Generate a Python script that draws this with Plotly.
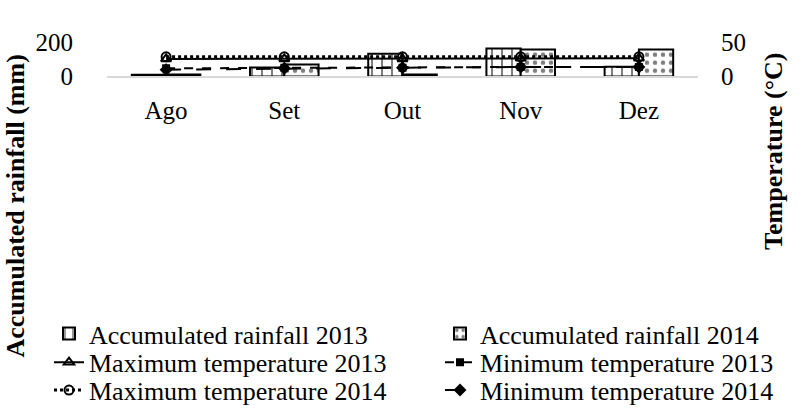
import plotly.graph_objects as go

months = ["Ago", "Set", "Out", "Nov", "Dez"]
rain_2013 = [10, 53, 134, 165, 57]
rain_2014 = [12, 71, 12, 159, 159]
tmax_2013 = [26, 26, 26, 27, 27]
tmin_2013 = [12, 13, 13, 14, 14]
tmax_2014 = [29, 29, 29, 29, 29]
tmin_2014 = [10, 12, 13, 14, 14]

FONT = "Liberation Serif"
W, H = 809, 414
x0, x1 = 107, 698
ytop, ybot = 43, 77

fig = go.Figure()
fig.add_trace(go.Bar(
    x=months, y=rain_2013, name="Accumulated rainfall 2013",
    marker=dict(color="white", line=dict(color="black", width=2),
                pattern=dict(shape="|", fgcolor="black", bgcolor="white", size=10, solidity=0.2)),
    legend="legend"))
fig.add_trace(go.Bar(
    x=months, y=rain_2014, name="Accumulated rainfall 2014",
    marker=dict(color="white", line=dict(color="black", width=2),
                pattern=dict(shape=".", fgcolor="black", bgcolor="white", size=8, solidity=0.25)),
    legend="legend2"))
fig.add_trace(go.Scatter(
    x=months, y=tmax_2013, name="Maximum temperature 2013", yaxis="y2",
    mode="lines+markers", line=dict(color="black", width=2, dash="solid"),
    marker=dict(symbol="triangle-up-open", size=9, color="black", line=dict(width=2)),
    legend="legend3"))
fig.add_trace(go.Scatter(
    x=months, y=tmin_2013, name="Minimum temperature 2013", yaxis="y2",
    mode="lines+markers", line=dict(color="black", width=2, dash="dash"),
    marker=dict(symbol="square", size=8, color="black"),
    legend="legend4"))
fig.add_trace(go.Scatter(
    x=months, y=tmax_2014, name="Maximum temperature 2014", yaxis="y2",
    mode="lines+markers", line=dict(color="black", width=3, dash="dot"),
    marker=dict(symbol="circle-open", size=9, color="black", line=dict(width=2)),
    legend="legend5"))
fig.add_trace(go.Scatter(
    x=months, y=tmin_2014, name="Minimum temperature 2014", yaxis="y2",
    mode="lines+markers", line=dict(color="black", width=2, dash="longdash"),
    marker=dict(symbol="diamond", size=10, color="black"),
    legend="legend6"))

def leg(xpx, ypx):
    return dict(orientation="h", xanchor="left", yanchor="middle",
                x=xpx / W, y=1 - ypx / H,
                font=dict(family=FONT, size=26, color="black"),
                bgcolor="rgba(0,0,0,0)", borderwidth=0)

col1, col2 = 49, 440
rows = [336, 365, 393]

fig.update_layout(
    width=W, height=H,
    margin=dict(l=0, r=0, t=0, b=0),
    paper_bgcolor="white", plot_bgcolor="white",
    barmode="group", bargap=0.42, bargroupgap=0,
    font=dict(family=FONT, size=25, color="black"),
    xaxis=dict(domain=[x0 / W, x1 / W], showgrid=False, showline=True,
               linecolor="#d9d9d9", linewidth=2, ticks="", ticklabelstandoff=11,
               tickfont=dict(family=FONT, size=25), automargin=False, anchor="y"),
    yaxis=dict(domain=[1 - ybot / H, 1 - ytop / H], range=[0, 200],
               tickvals=[0, 200], showgrid=False, zeroline=False, showline=False,
               ticks="", ticklabelstandoff=33, tickfont=dict(family=FONT, size=25),
               automargin=False),
    yaxis2=dict(overlaying="y", side="right", range=[0, 50], tickvals=[0, 50],
                showgrid=False, zeroline=False, showline=False, ticks="",
                ticklabelstandoff=22, tickfont=dict(family=FONT, size=25),
                automargin=False, anchor="x"),
    showlegend=True,
    legend=leg(col1, rows[0]),
    legend2=leg(col2, rows[0]),
    legend3=leg(col1, rows[1]),
    legend4=leg(col2, rows[1]),
    legend5=leg(col1, rows[2]),
    legend6=leg(col2, rows[2]),
    annotations=[
        dict(text="<b>Accumulated rainfall (mm)</b>", textangle=-90, x=15 / W, y=1 - 208 / H,
             xref="paper", yref="paper", showarrow=False, xanchor="center", yanchor="middle",
             font=dict(family=FONT, size=26, color="black")),
        dict(text="<b>Temperature (°C)</b>", textangle=-90, x=774 / W, y=1 - 153 / H,
             xref="paper", yref="paper", showarrow=False, xanchor="center", yanchor="middle",
             font=dict(family=FONT, size=26, color="black")),
    ],
)

fig.write_html("out.html", post_script="document.body.style.margin='0';",
               config={"displayModeBar": False})
